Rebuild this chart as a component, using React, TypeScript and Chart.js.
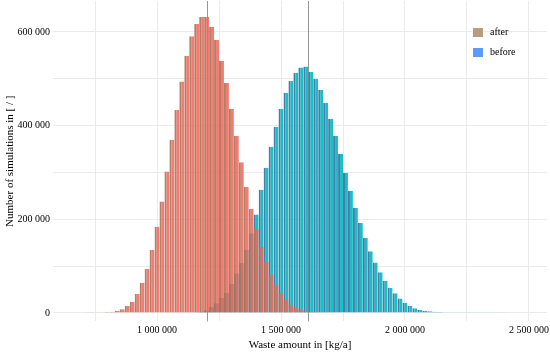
import React, { useEffect, useRef } from "react";
import { Chart, registerables } from "chart.js";

Chart.register(...registerables);

// Bin centres of the histogram (kg/a), bin width 20 000
const binCenters = [
  720000, 740000, 760000, 780000, 800000, 820000, 840000, 860000, 880000, 900000,
  920000, 940000, 960000, 980000, 1000000, 1020000, 1040000, 1060000, 1080000, 1100000,
  1120000, 1140000, 1160000, 1180000, 1200000, 1220000, 1240000, 1260000, 1280000, 1300000,
  1320000, 1340000, 1360000, 1380000, 1400000, 1420000, 1440000, 1460000, 1480000, 1500000,
  1520000, 1540000, 1560000, 1580000, 1600000, 1620000, 1640000, 1660000, 1680000, 1700000,
  1720000, 1740000, 1760000, 1780000, 1800000, 1820000, 1840000, 1860000, 1880000, 1900000,
  1920000, 1940000, 1960000, 1980000, 2000000, 2020000, 2040000, 2060000, 2080000, 2100000,
  2120000, 2140000, 2160000, 2180000, 2200000, 2220000, 2240000, 2260000, 2280000, 2300000,
  2320000, 2340000, 2360000, 2380000, 2400000,
];

const afterCounts = [
  1500, 1500, 1500, 1800, 2000, 2500, 4000, 8000, 15000, 24000,
  41000, 64000, 94000, 135000, 184000, 238000, 302000, 370000, 434000, 494000,
  549000, 591000, 617000, 632000, 632000, 611000, 583000, 538000, 491000, 436000,
  378000, 322000, 269000, 222000, 179000, 141000, 109000, 82000, 60000, 42000,
  28000, 18000, 11000, 7000, 4000, 2500, 2000, 1500, 1500, 1500,
  0, 0, 0, 0, 0, 0, 0, 0, 0, 0,
  0, 0, 0, 0, 0, 0, 0, 0, 0, 0,
  0, 0, 0, 0, 0, 0, 0, 0, 0, 0,
  0, 0, 0, 0, 0,
];

const beforeCounts = [
  0, 0, 0, 0, 0, 0, 0, 0, 0, 0,
  0, 0, 0, 0, 0, 0, 0, 0, 0, 0,
  0, 0, 1500, 3000, 6000, 13000, 21000, 32000, 43000, 62000,
  85000, 107000, 135000, 170000, 210000, 263000, 310000, 355000, 397000, 436000,
  470000, 496000, 513000, 524000, 526000, 515000, 500000, 476000, 448000, 414000,
  378000, 340000, 299000, 261000, 224000, 192000, 160000, 132000, 108000, 87000,
  69000, 54000, 42000, 31000, 22000, 15000, 10000, 7000, 5000, 3500,
  2500, 2000, 1500, 1500, 1500, 1500, 1500, 1500, 1500, 1500,
  1500, 1500, 1500, 1500, 1500,
];

const seriesNames = ["after", "before"];
const meanValues = [1201000, 1609000];

const xGridTicks = [750000, 1000000, 1250000, 1500000, 1750000, 2000000, 2250000, 2500000];
const xLabelTicks = [1000000, 1500000, 2000000, 2500000];
const yGridTicks = [0, 100000, 200000, 300000, 400000, 500000, 600000];
const yLabelTicks = [0, 200000, 400000, 600000];

const FONT = "'Liberation Serif', 'Times New Roman', serif";

const fmt = (v: number) => String(v).replace(/\B(?=(\d{3})+(?!\d))/g, " ");

const meanLinesPlugin = {
  id: "meanLines",
  beforeDatasetsDraw(chart: any) {
    const { ctx, chartArea, scales } = chart;
    ctx.save();
    ctx.strokeStyle = "rgba(150,150,150,1)";
    ctx.lineWidth = 1;
    meanValues.forEach((m) => {
      const x = Math.round(scales.x.getPixelForValue(m)) + 0.5;
      ctx.beginPath();
      ctx.moveTo(x, chartArea.top);
      ctx.lineTo(x, chartArea.bottom);
      ctx.stroke();
    });
    ctx.restore();
  },
};

const legendPlugin = {
  id: "cornerLegend",
  afterDraw(chart: any) {
    const { ctx } = chart;
    const colors = ["#b89c7e", "#5a9bf5"];
    ctx.save();
    ctx.font = `10px ${FONT}`;
    ctx.textBaseline = "middle";
    ctx.textAlign = "left";
    seriesNames.forEach((name, i) => {
      const y = 28 + i * 20;
      ctx.fillStyle = colors[i];
      ctx.fillRect(473, y, 10, 9);
      ctx.fillStyle = "#000";
      ctx.fillText(name, 490, y + 4.5);
    });
    ctx.restore();
  },
};

export default function App() {
  const canvasRef = useRef<HTMLCanvasElement | null>(null);

  useEffect(() => {
    if (!canvasRef.current) return;
    const chart = new Chart(canvasRef.current, {
      type: "bar",
      data: {
        datasets: [
          {
            label: seriesNames[1],
            data: binCenters.map((x, i) => ({ x, y: beforeCounts[i] })),
            backgroundColor: "rgba(22,192,198,1)",
            borderColor: "rgba(82,120,170,1)",
            borderWidth: { left: 2, right: 0, top: 0, bottom: 0 },
            borderSkipped: false,
            barPercentage: 1,
            categoryPercentage: 1,
            inflateAmount: 0,
            grouped: false,
            order: 2,
          } as any,
          {
            label: seriesNames[0],
            data: binCenters.map((x, i) => ({ x, y: afterCounts[i] })),
            backgroundColor: "rgba(244,100,90,0.86)",
            borderColor: "rgba(165,120,90,0.92)",
            borderWidth: { left: 2, right: 0, top: 0, bottom: 0 },
            borderSkipped: false,
            barPercentage: 1,
            categoryPercentage: 1,
            inflateAmount: 0,
            grouped: false,
            order: 1,
          } as any,
        ],
      },
      options: {
        animation: false,
        responsive: true,
        maintainAspectRatio: false,
        layout: { padding: { top: 1, right: 3, left: 0, bottom: 0 } },
        plugins: {
          legend: { display: false },
          tooltip: { enabled: false },
        },
        scales: {
          x: {
            type: "linear",
            offset: false,
            min: 580600,
            max: 2572600,
            afterFit(scale: any) {
              scale.height = 32.6;
              scale.paddingLeft = 0;
              scale.paddingRight = 0;
            },
            afterBuildTicks(scale: any) {
              scale.ticks = xGridTicks.map((v) => ({ value: v }));
            },
            ticks: {
              autoSkip: false,
              maxRotation: 0,
              padding: 3,
              color: "#000",
              font: { family: FONT, size: 10 },
              callback: (v: any) => (xLabelTicks.includes(Number(v)) ? fmt(Number(v)) : ""),
            },
            grid: { color: "#ebebeb", drawTicks: false, offset: false },
            border: { display: false },
            title: {
              display: true,
              text: "Waste amount in [kg/a]",
              color: "#000",
              font: { family: FONT, size: 11 },
              padding: { top: 0, bottom: 2 },
            },
          },
          y: {
            type: "linear",
            min: -18000,
            max: 666000,
            afterFit(scale: any) {
              scale.width = 53;
              scale.paddingTop = 0;
              scale.paddingBottom = 0;
            },
            afterBuildTicks(scale: any) {
              scale.ticks = yGridTicks.map((v) => ({ value: v }));
            },
            ticks: {
              autoSkip: false,
              padding: 3,
              color: "#000",
              font: { family: FONT, size: 10 },
              callback: (v: any) => (yLabelTicks.includes(Number(v)) ? fmt(Number(v)) : ""),
            },
            grid: { color: "#ebebeb", drawTicks: false },
            border: { display: false },
            title: {
              display: true,
              text: "Number of simulations in [ / ]",
              color: "#000",
              font: { family: FONT, size: 11 },
              padding: { top: 4, bottom: 0 },
            },
          },
        },
      } as any,
      plugins: [meanLinesPlugin, legendPlugin],
    });
    return () => chart.destroy();
  }, []);

  return (
    <div style={{ position: "absolute", left: 0, top: 0, width: 550, height: 354, background: "#fff" }}>
      <canvas ref={canvasRef} />
    </div>
  );
}
